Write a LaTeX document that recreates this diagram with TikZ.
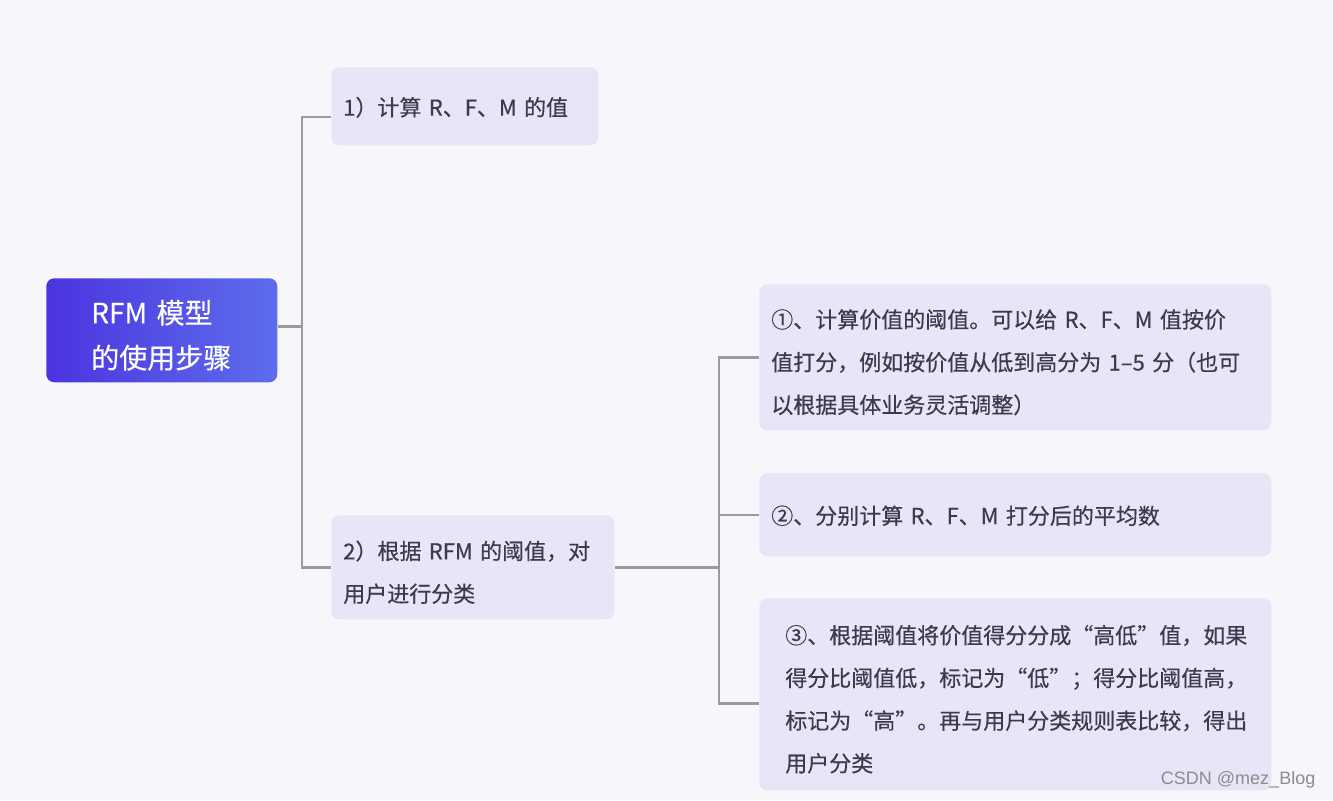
\documentclass[tikz,border=0pt]{standalone}
\usepackage{fontspec}
\setmainfont{Noto Sans CJK SC}[FakeBold=0.4]
\newfontfamily\markfont{Liberation Sans}
\usepackage{xcolor}
\definecolor{canvasTint}{HTML}{F7F6FB}
\definecolor{leafFill}{HTML}{E8E5F8}
\definecolor{inkGray}{HTML}{3C3A4D}
\definecolor{rootLeft}{HTML}{4B34DF}
\definecolor{rootRight}{HTML}{5D6DEC}
\definecolor{branchGray}{HTML}{9B9B9B}
\usetikzlibrary{positioning,calc}
\tikzset{%
  leafBox/.style={
    rectangle, rounded corners=6pt, fill=leafFill, anchor=north west,
    inner xsep=9pt, inner ysep=0pt, align=left, text=inkGray,
    font=\fontsize{16.5pt}{32pt}\selectfont,
    execute at end node={\par\vspace{-7.5pt}}},
  rootBox/.style={
    rectangle, rounded corners=6pt, left color=rootLeft, right color=rootRight,
    anchor=north west, inner xsep=33.75pt, inner ysep=0pt, align=left,
    text=white, font=\fontsize{21pt}{33.75pt}\selectfont,
    execute at end node={\par\vspace{-7.5pt}}},
  branchLine/.style={draw=branchGray, line width=1.9pt},
  waterMark/.style={font=\markfont\fontsize{13.5pt}{16pt}\selectfont, text=black!45},
}
\begin{document}
\begin{tikzpicture}[x=0.75pt, y=-0.75pt]
  \fill[canvasTint] (0,0) rectangle (1333,800);
  \useasboundingbox (0,0) rectangle (1333,800);

  \node[rootBox, minimum width=173.25pt, minimum height=78pt, text width=105.75pt]
    (root) at (46,278) {RFM~模型\\的使用步骤};
  \node[leafBox, minimum width=200.25pt, minimum height=58.5pt, text width=182.25pt]
    (calc) at (331,67) {1）计算~R、F、M~的值};
  \node[leafBox, minimum width=212.25pt, minimum height=78pt, text width=194.25pt]
    (classify) at (331,515) {2）根据~RFM~的阈值，对\\用户进行分类};
  \node[leafBox, minimum width=384pt, minimum height=109.5pt, text width=366pt]
    (thresh) at (759,284) {①、计算价值的阈值。可以给~R、F、M~值按价\\值打分，例如按价值从低到高分为~1–5~分（也可\\以根据具体业务灵活调整）};
  \node[leafBox, minimum width=384pt, minimum height=62.25pt, text width=366pt]
    (mean) at (759,473) {②、分别计算~R、F、M~打分后的平均数};
  \node[leafBox, minimum width=384pt, minimum height=144pt, text width=345pt, inner xsep=19.5pt]
    (label) at (759,598) {③、根据阈值将价值得分分成“高低”值，如果\\得分比阈值低，标记为“低”；得分比阈值高，\\标记为“高”。再与用户分类规则表比较，得出\\用户分类};

  \coordinate (trunkA) at (302,0);
  \coordinate (trunkB) at (719,0);
  \coordinate (calcIn) at ([yshift=-8pt]calc.west);
  \coordinate (labelIn) at ([yshift=-7pt]label.west);
  \coordinate (rootOut) at ([yshift=3pt]root.east);

  \draw[branchLine] (rootOut) -- (rootOut -| trunkA);
  \draw[branchLine] (calcIn) -| (trunkA |- classify.west) -- (classify.west);
  \draw[branchLine] (classify.east) -- (classify.east -| trunkB);
  \draw[branchLine] (thresh.west) -| (trunkB |- labelIn) -- (labelIn);
  \draw[branchLine] (mean.west) -- (mean.west -| trunkB);

  \node[waterMark, anchor=east] (mark) at (1320,780) {CSDN @mez\_Blog};
\end{tikzpicture}
\end{document}
